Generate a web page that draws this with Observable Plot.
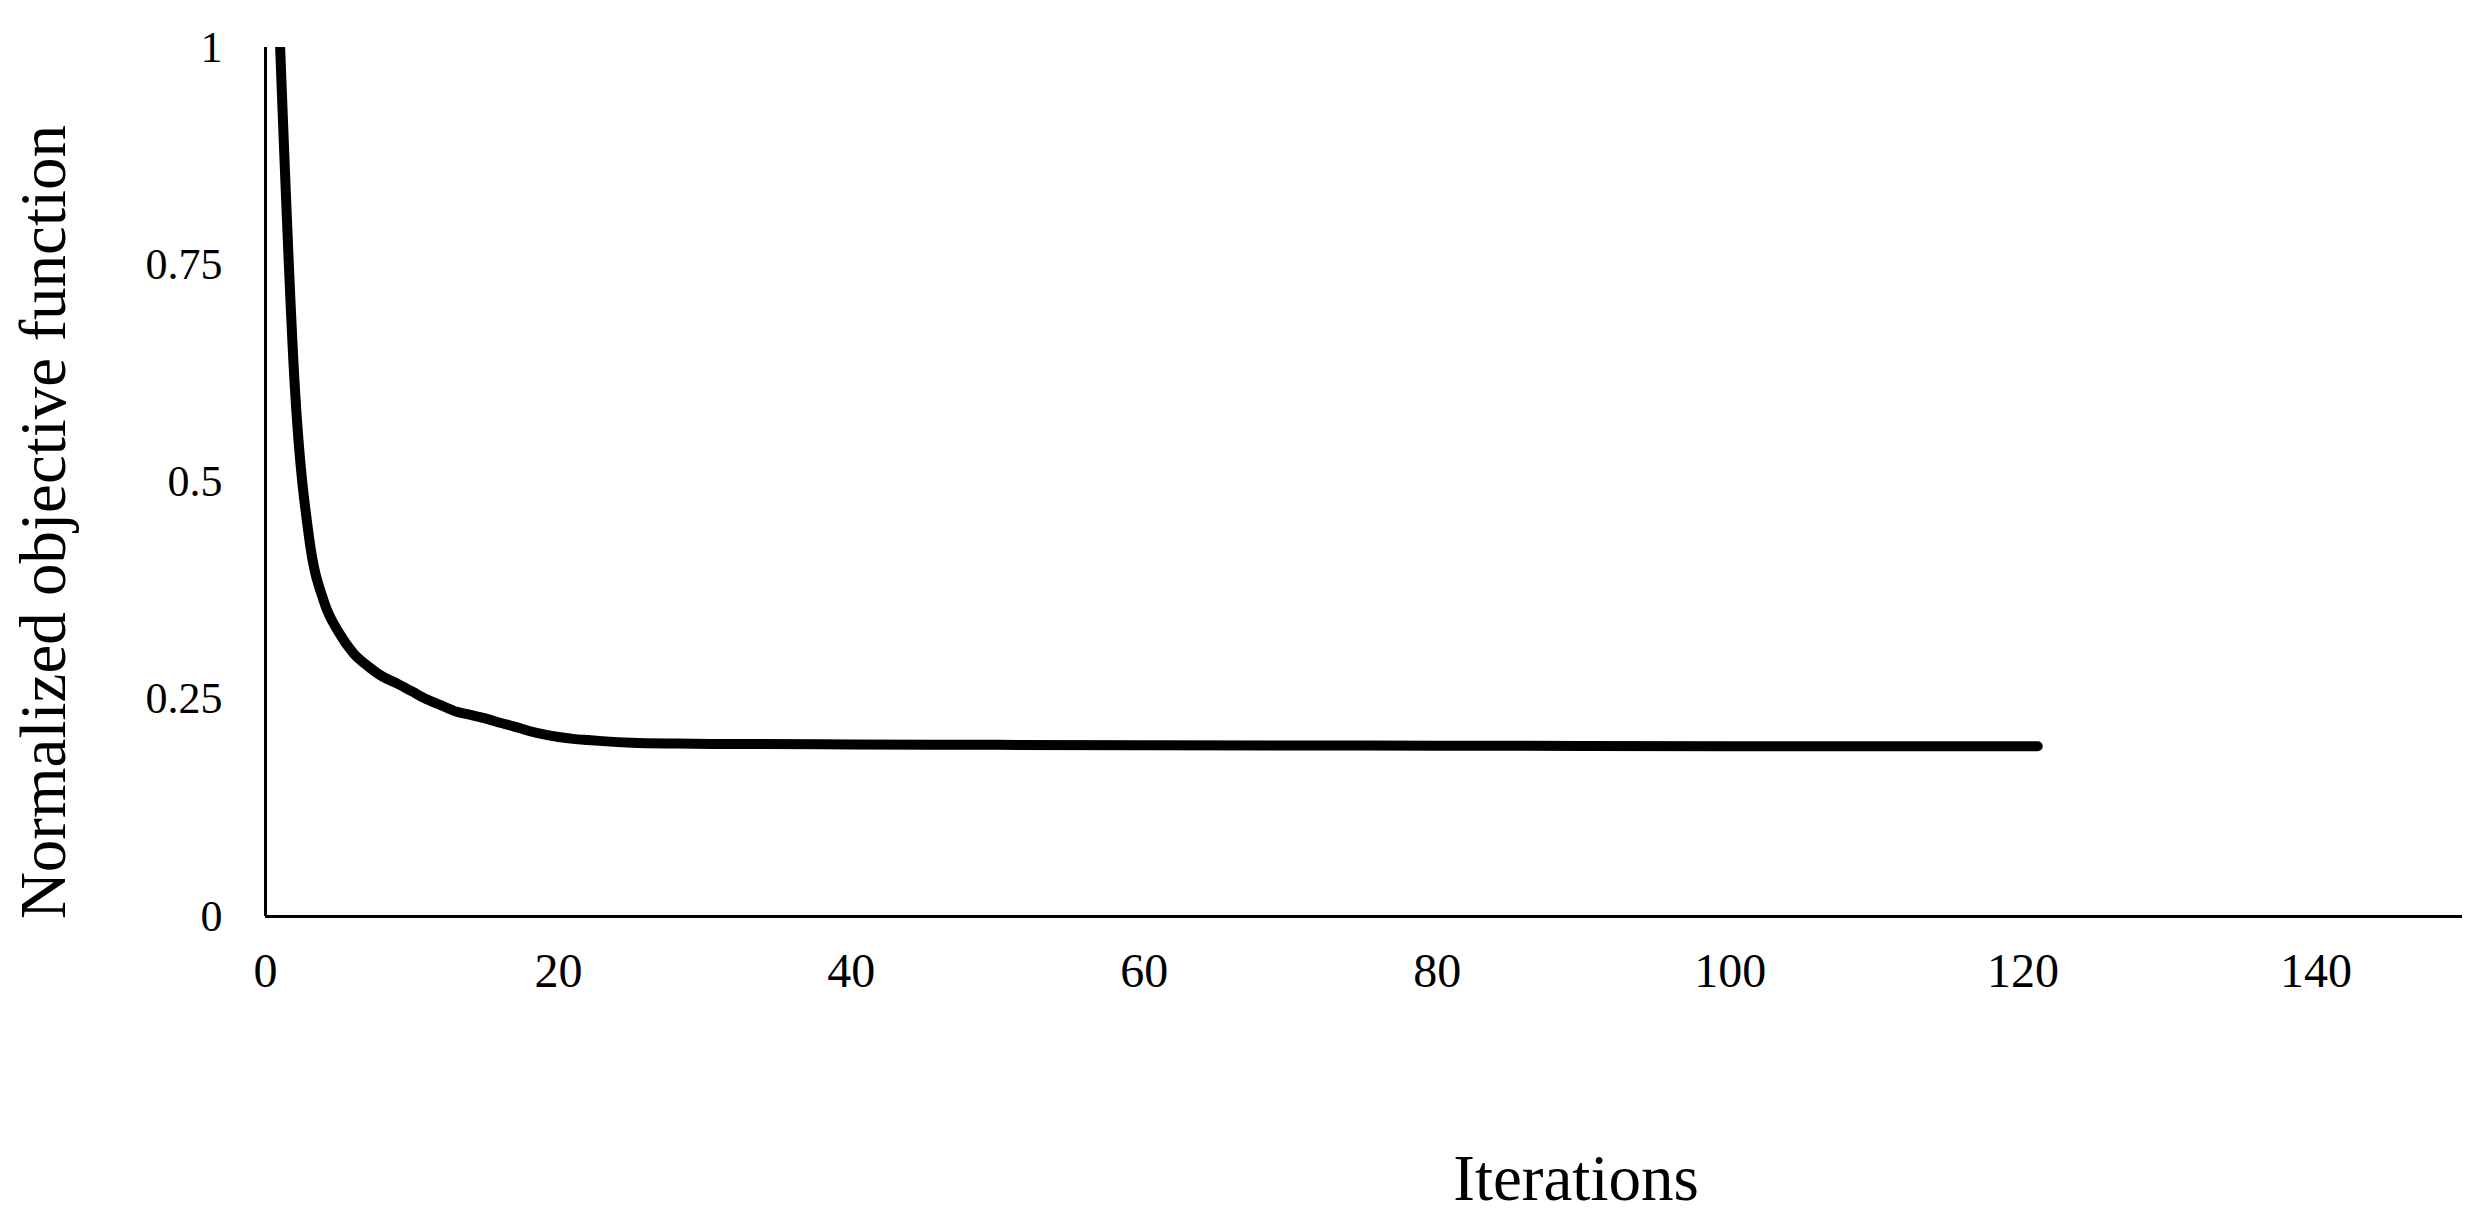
<!DOCTYPE html>
<html>
<head>
<meta charset="utf-8">
<script src="https://cdn.jsdelivr.net/npm/d3@7"></script>
<script src="https://cdn.jsdelivr.net/npm/@observablehq/plot@0.6"></script>
<style>
  html, body { margin: 0; padding: 0; background: #ffffff; }
  #chart svg { display: block; }
</style>
</head>
<body>
<div id="chart"></div>
<script>
// Iterations
const iterations = [1, 2, 3, 4, 5, 6, 7, 8, 9, 10, 11, 12, 13, 14, 15, 16, 17, 18, 19, 20, 21, 22, 23, 25, 28, 32, 40, 50, 60, 70, 80, 90, 100, 110, 121];
// Normalized objective function values
const objective = [1.0, 0.61, 0.433, 0.362, 0.327, 0.303, 0.288, 0.276, 0.268, 0.259, 0.250, 0.243, 0.236, 0.232, 0.228, 0.223, 0.2185, 0.2135, 0.2095, 0.2066, 0.2044, 0.203, 0.2018, 0.200, 0.199, 0.1985, 0.198, 0.1975, 0.197, 0.1968, 0.1965, 0.1963, 0.196, 0.196, 0.196];
const xTicks = [0, 20, 40, 60, 80, 100, 120, 140];
const yTicks = [0, 0.25, 0.5, 0.75, 1];
const xLabel = "Iterations";
const yLabel = "Normalized objective function";

const data = iterations.map((it, i) => ({iteration: it, value: objective[i]}));

const font = "'Liberation Serif', 'Times New Roman', serif";

const chart = Plot.plot({
  width: 2478,
  height: 1213,
  marginLeft: 265,
  marginRight: 16,
  marginTop: 47,
  marginBottom: 297,
  style: {fontFamily: font, background: "#ffffff", color: "#000000"},
  x: {domain: [0, 150]},
  y: {domain: [0, 1]},
  marks: [
    Plot.axisX({ticks: xTicks, tickSize: 0, tickPadding: 36, fontSize: 48, label: null, tickFormat: d => String(d)}),
    Plot.axisY({ticks: yTicks, tickSize: 0, tickPadding: 43, fontSize: 44, label: null, tickFormat: d => String(d)}),
    Plot.ruleX([0], {stroke: "#000000", strokeWidth: 3}),
    Plot.ruleY([0], {stroke: "#000000", strokeWidth: 3}),
    Plot.line(data, {x: "iteration", y: "value", stroke: "#000000", strokeWidth: 10, curve: "monotone-x", strokeLinecap: "round", strokeLinejoin: "round", clip: true}),
    Plot.text([xLabel], {frameAnchor: "bottom", text: d => d, fontSize: 65, textAnchor: "middle", lineAnchor: "bottom", dx: 212, dy: 283, fill: "#000000"}),
    Plot.text([yLabel], {frameAnchor: "left", text: d => d, fontSize: 65, rotate: -90, textAnchor: "middle", lineAnchor: "middle", dx: -221, dy: 40, fill: "#000000"})
  ]
});
document.getElementById("chart").appendChild(chart);
</script>
</body>
</html>
